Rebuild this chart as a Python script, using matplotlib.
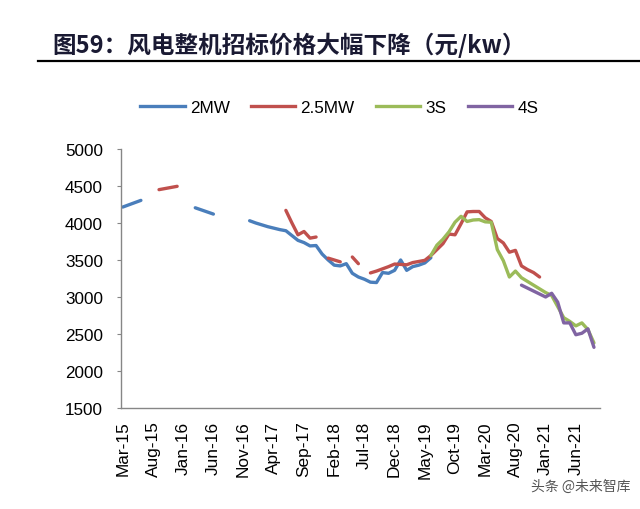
import numpy as np
import matplotlib
matplotlib.use('Agg')
import matplotlib.pyplot as plt
from matplotlib.lines import Line2D

plt.rcParams['font.family'] = ['Liberation Sans', 'Noto Sans CJK SC', 'DejaVu Sans']

nan = np.nan

# month index 0 = Mar-15, one step per month; nan breaks the line
tick_labels = ['Mar-15', 'Aug-15', 'Jan-16', 'Jun-16', 'Nov-16', 'Apr-17', 'Sep-17', 'Feb-18',
               'Jul-18', 'Dec-18', 'May-19', 'Oct-19', 'Mar-20', 'Aug-20', 'Jan-21', 'Jun-21']

mw2_x = [0, 3, nan, 12, 15, nan] + list(range(21, 52))
mw2_y = [4215, 4305, nan, 4205, 4120, nan,
         4030, 4000, 3975, 3950, 3930, 3910, 3895, 3830, 3765, 3735,
         3690, 3695, 3580, 3500, 3430, 3420, 3450, 3320, 3270, 3240,
         3200, 3195, 3330, 3320, 3360, 3500, 3360, 3410, 3430, 3460, 3530]

mw25_x = [6, 9, nan, 27, 28, 29, 30, 31, 32, nan, 34, 35, 36, nan, 38, 39, nan] + list(range(41, 70))
mw25_y = [4450, 4495, nan, 4170, 4000, 3840, 3885, 3795, 3810, nan, 3525, 3500, 3475, nan,
          3540, 3450, nan,
          3325, 3350, 3380, 3410, 3445, 3440, 3435, 3465, 3480, 3495,
          3560, 3640, 3720, 3850, 3840, 3990, 4150, 4155, 4155, 4070,
          4020, 3790, 3730, 3605, 3630, 3420, 3370, 3330, 3270]

s3_x = list(range(51, 79))
s3_y = [3560, 3700, 3780, 3880, 4010, 4090, 4020, 4040, 4045, 4015,
        4010, 3640, 3490, 3270, 3350, 3260, 3210, 3160, 3110, 3060,
        3020, 2870, 2720, 2670, 2610, 2650, 2560, 2380]

s4_x = list(range(66, 79))
s4_y = [3160, 3120, 3080, 3040, 3000, 3050, 2930, 2650, 2650, 2490, 2510, 2570, 2320]

names = ['2MW', '2.5MW', '3S', '4S']
colors = ['#4A7EBB', '#C0504D', '#9BBB59', '#8064A2']

fig = plt.figure(figsize=(6.4, 5.1), dpi=100)
ax = fig.add_axes([0.189, 0.198, 0.7485, 0.508])

lw = 2.4
for xs, ys, c in [(mw2_x, mw2_y, colors[0]), (mw25_x, mw25_y, colors[1]),
                  (s3_x, s3_y, colors[2]), (s4_x, s4_y, colors[3])]:
    ax.plot(xs, ys, color=c, lw=lw, solid_capstyle='round', solid_joinstyle='round')

ax.set_xlim(-0.3, 79)
ax.set_ylim(1500, 5000)
ax.set_yticks(range(1500, 5001, 500))
ax.set_xticks(range(0, 76, 5))
ax.set_xticklabels(tick_labels, rotation=90, fontsize=12.4)
ax.tick_params(axis='y', labelsize=12.3, length=3, color='#868686', pad=10)
ax.tick_params(axis='x', length=0, pad=9)
for s in ['top', 'right']:
    ax.spines[s].set_visible(False)
for s in ['left', 'bottom']:
    ax.spines[s].set_color('#868686')
    ax.spines[s].set_linewidth(1.0)

handles = [Line2D([], [], color=c, lw=lw) for c in colors]
fig.legend(handles, names, loc='center', bbox_to_anchor=(0.53, 0.788), ncol=4, frameon=False,
           fontsize=12.3, handlelength=2.6, handletextpad=0.3, columnspacing=1.25)

fig.text(0.082, 0.912, '图59：风电整机招标价格大幅下降（元/kw）', fontsize=17, fontweight='bold',
         color='#1a1a33', family=['Noto Sans CJK SC', 'DejaVu Sans'], va='center')
fig.add_artist(Line2D([0.06, 1.0], [0.879, 0.879], color='black', lw=1.6))

fig.text(0.985, 0.045, '头条 @未来智库', fontsize=10, color='#555555',
         family=['Noto Sans CJK SC', 'DejaVu Sans'], ha='right', va='center')

fig.savefig('out.png', dpi=100)
